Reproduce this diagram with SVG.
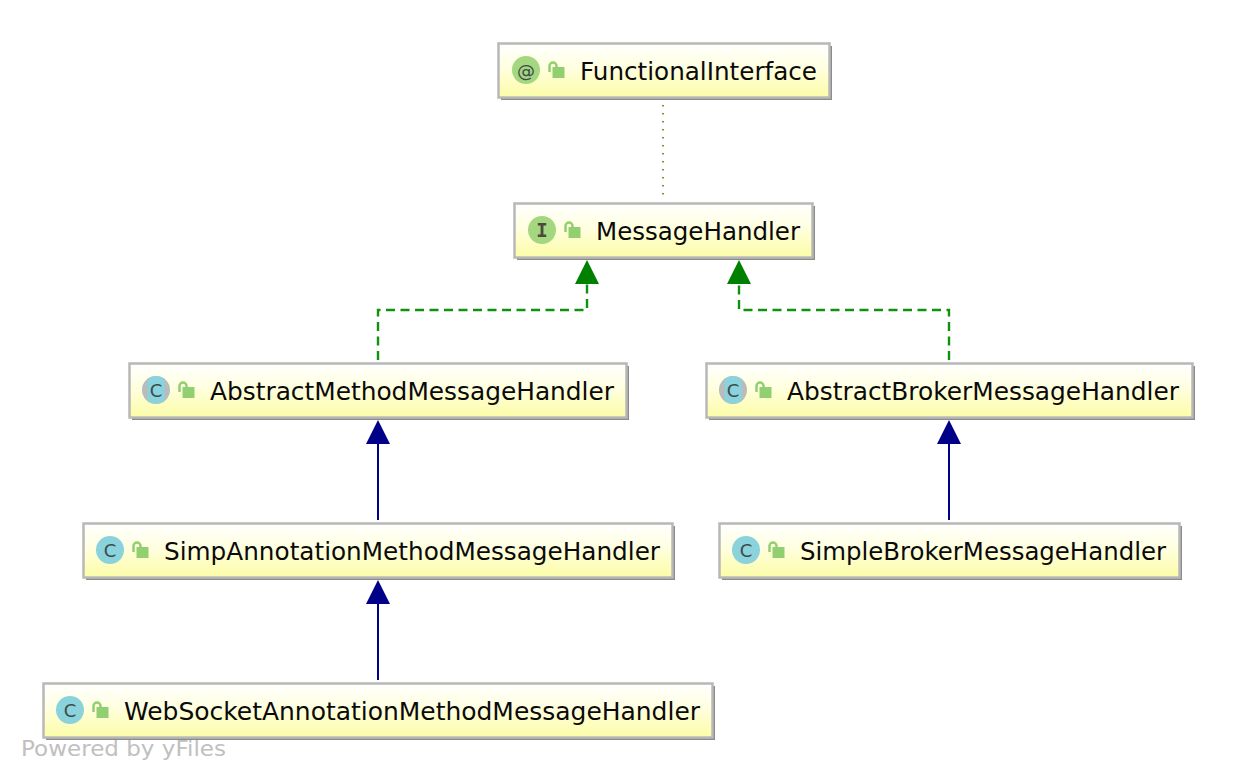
<svg xmlns="http://www.w3.org/2000/svg" width="1236" height="780" viewBox="0 0 1236 780">
<style>
.box{fill:url(#g);stroke:#b8b8b8;stroke-width:2.5}
.sh{fill:#8c8c8c}
.t{font-family:"DejaVu Sans",sans-serif;font-size:24px;fill:#0a0a0a}
.ic{font-family:"DejaVu Sans",sans-serif;font-size:18px;fill:#3c4a4a;text-anchor:middle}
.im{font-family:"DejaVu Sans Mono",monospace;font-weight:bold;font-size:19px;fill:#4a4a3c;text-anchor:middle}
.c{fill:#8ad2dc}.i{fill:#a5d680}
.lk{fill:#92cf71}.ls{fill:none;stroke:#92cf71;stroke-width:2.5}
.impl{fill:none;stroke:#0f930f;stroke-width:2.400;stroke-dasharray:9 5.500}
.ext{fill:none;stroke:#000088;stroke-width:2}
</style>
<defs>
<linearGradient id="g" x1="0" y1="0" x2="0" y2="1"><stop offset="0" stop-color="#ffffff"/><stop offset="0.45" stop-color="#ffffe0"/><stop offset="0.9" stop-color="#fdfdb0"/><stop offset="1" stop-color="#fdfdb0"/></linearGradient>
<g id="lock"><rect class="lk" x="4.500" y="-3" width="12" height="11"/><path class="ls" d="M1.500 2V-4A3.500 3.500 0 0 1 8.500 -4V-2"/></g>
<g id="abs"><circle r="14" fill="#b8bcbc"/><path class="c" d="M-8.500 -11.100A14 14 0 0 1 8.500 -11.100V11.100A14 14 0 0 1 -8.500 11.100Z"/></g>
</defs>
<g id="connectors">
<path d="M663 105V197" fill="none" stroke="#8f8f30" stroke-width="2" stroke-dasharray="1.500 6.500"/>
<path class="impl" d="M378 360V310H587V284"/><path d="M587 260l12 24h-24z" fill="#008000"/>
<path class="impl" d="M949 360V310H739V284"/><path d="M739 260l12 24h-24z" fill="#008000"/>
<path class="ext" d="M378 520V444"/><path d="M378 420l12 24h-24z" fill="#000088"/>
<path class="ext" d="M949 520V444"/><path d="M949 420l12 24h-24z" fill="#000088"/>
<path class="ext" d="M378 680V604"/><path d="M378 580l12 24h-24z" fill="#000088"/>
</g>
<g id="functionalinterface"><rect class="sh" x="501" y="46" width="331" height="54"/><rect class="box" x="498.500" y="43.500" width="331" height="54"/><circle class="i" cx="526" cy="70" r="14"/><text class="ic" x="526" y="76.500">@</text><use href="#lock" x="548" y="70"/><text class="t" x="580" y="80" textLength="237" lengthAdjust="spacingAndGlyphs">FunctionalInterface</text></g>
<g id="messagehandler"><rect class="sh" x="517" y="206" width="298" height="54"/><rect class="box" x="514.500" y="203.500" width="298" height="54"/><circle class="i" cx="542" cy="230" r="14"/><text class="im" x="542" y="237">I</text><use href="#lock" x="564" y="230"/><text class="t" x="596" y="240" textLength="204" lengthAdjust="spacingAndGlyphs">MessageHandler</text></g>
<g id="abstractmethodmessagehandler"><rect class="sh" x="132" y="366" width="497" height="54"/><rect class="box" x="129.500" y="363.500" width="497" height="54"/><use href="#abs" x="156" y="390"/><text class="ic" x="156" y="396.500">C</text><use href="#lock" x="178" y="390"/><text class="t" x="210" y="400" textLength="404" lengthAdjust="spacingAndGlyphs">AbstractMethodMessageHandler</text></g>
<g id="abstractbrokermessagehandler"><rect class="sh" x="709" y="366" width="486" height="54"/><rect class="box" x="706.500" y="363.500" width="486" height="54"/><use href="#abs" x="733" y="390"/><text class="ic" x="733" y="396.500">C</text><use href="#lock" x="755" y="390"/><text class="t" x="787" y="400" textLength="392" lengthAdjust="spacingAndGlyphs">AbstractBrokerMessageHandler</text></g>
<g id="simpannotationmethodmessagehandler"><rect class="sh" x="86" y="526" width="589" height="54"/><rect class="box" x="83.500" y="523.500" width="589" height="54"/><circle class="c" cx="110" cy="550" r="14"/><text class="ic" x="110" y="556.500">C</text><use href="#lock" x="132" y="550"/><text class="t" x="164" y="560" textLength="496" lengthAdjust="spacingAndGlyphs">SimpAnnotationMethodMessageHandler</text></g>
<g id="simplebrokermessagehandler"><rect class="sh" x="722" y="526" width="460" height="54"/><rect class="box" x="719.500" y="523.500" width="460" height="54"/><circle class="c" cx="746" cy="550" r="14"/><text class="ic" x="746" y="556.500">C</text><use href="#lock" x="768" y="550"/><text class="t" x="800" y="560" textLength="366" lengthAdjust="spacingAndGlyphs">SimpleBrokerMessageHandler</text></g>
<g id="websocketannotationmethodmessagehandler"><rect class="sh" x="46" y="686" width="669" height="54"/><rect class="box" x="43.500" y="683.500" width="669" height="54"/><circle class="c" cx="70" cy="710" r="14"/><text class="ic" x="70" y="716.500">C</text><use href="#lock" x="92" y="710"/><text class="t" x="124" y="720" textLength="576" lengthAdjust="spacingAndGlyphs">WebSocketAnnotationMethodMessageHandler</text></g>
<text x="21" y="756" font-family="DejaVu Sans, sans-serif" font-size="22" fill="#c0c0c0" textLength="205" lengthAdjust="spacingAndGlyphs">Powered by yFiles</text>
</svg>
